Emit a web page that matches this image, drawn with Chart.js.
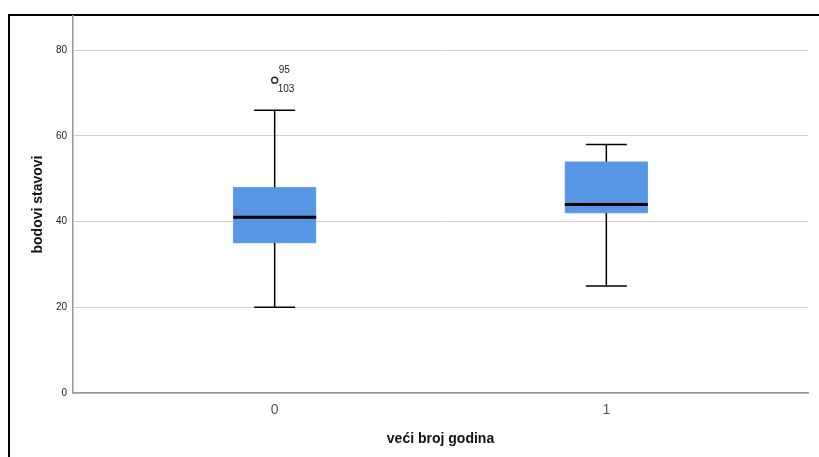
<!DOCTYPE html>
<html>
<head>
<meta charset="utf-8">
<script src="https://cdn.jsdelivr.net/npm/chart.js@4.4.0/dist/chart.umd.min.js"></script>
<style>
  body{margin:0;background:#fff;}
  #frame{position:absolute;left:8px;top:14px;width:900px;height:500px;border:2px solid #000;}
  #wrap{position:absolute;left:0;top:0;width:819px;height:457px;}
</style>
</head>
<body>
<div id="frame"></div>
<div id="wrap"><canvas id="mychart" width="819" height="457"></canvas></div>
<script>
	// boxplot summary for each group
	const categories=['0','1'];
	const mins=[20,25];
	const q1s=[35,42];
	const medians=[41,44];
	const q3s=[48,54];
	const maxs=[66,58];
	const outliers=[73];
	const outlierGroup=[0];
	const outlierCases=[['95','103']];
	const yTicks=[0,20,40,60,80];

	const boxColor='#5796e4';

	const boxExtras={
		id:'boxExtras',
		afterDatasetsDraw(chart){
			const ctx=chart.ctx;
			const x=chart.scales.x, y=chart.scales.y;
			ctx.save();
			ctx.strokeStyle='#000';
			for(var i=0;i<categories.length;i++){
				var cx=x.getPixelForValue(i);
				ctx.lineWidth=1.5;
				ctx.beginPath();
				ctx.moveTo(cx,y.getPixelForValue(q3s[i]));
				ctx.lineTo(cx,y.getPixelForValue(maxs[i]));
				ctx.moveTo(cx,y.getPixelForValue(q1s[i]));
				ctx.lineTo(cx,y.getPixelForValue(mins[i]));
				ctx.moveTo(cx-20.5,y.getPixelForValue(maxs[i]));
				ctx.lineTo(cx+20.5,y.getPixelForValue(maxs[i]));
				ctx.moveTo(cx-20.5,y.getPixelForValue(mins[i]));
				ctx.lineTo(cx+20.5,y.getPixelForValue(mins[i]));
				ctx.stroke();
				ctx.lineWidth=3;
				ctx.beginPath();
				ctx.moveTo(cx-41.5,y.getPixelForValue(medians[i]));
				ctx.lineTo(cx+41.5,y.getPixelForValue(medians[i]));
				ctx.stroke();
			}
			ctx.fillStyle='#222';
			ctx.font='10px "Liberation Sans", Arial, sans-serif';
			ctx.textBaseline='middle';
			for(var j=0;j<outliers.length;j++){
				var px=x.getPixelForValue(outlierGroup[j]);
				var py=y.getPixelForValue(outliers[j]);
				ctx.fillText(outlierCases[j][0],px+4,py-10);
				ctx.fillText(outlierCases[j][1],px+3,py+9);
			}
			ctx.restore();
		}
	};

	var ctx=document.getElementById('mychart').getContext('2d');
	var myChart=new Chart(ctx,{
		type:'bar',
		data:{
			datasets:[{
				type:'bar',
				data:categories.map((c,i)=>({x:i,y:[q1s[i],q3s[i]]})),
				backgroundColor:boxColor,
				borderColor:'#6aa3ea',
				borderWidth:1,
				borderSkipped:false,
				barThickness:83
			},{
				type:'scatter',
				data:outliers.map((v,j)=>({x:outlierGroup[j],y:v})),
				pointStyle:'circle',
				pointRadius:3,
				pointBackgroundColor:'#fff',
				pointBorderColor:'#222',
				pointBorderWidth:1.3
			}]
		},
		options:{
			responsive:false,
			animation:false,
			layout:{padding:{top:16,right:11,left:0,bottom:0}},
			plugins:{legend:{display:false},tooltip:{enabled:false}},
			scales:{
				x:{
					type:'linear',
					min:-0.608,
					max:1.608,
					offset:false,
					afterBuildTicks:s=>{s.ticks=categories.map((c,i)=>({value:i}));},
					afterFit:s=>{s.height=64;},
					ticks:{
						callback:v=>categories[v],
						color:'#555',
						font:{family:'"Liberation Sans", Arial, sans-serif',size:14},
						padding:1
					},
					grid:{display:false,offset:false},
					border:{color:'#999',width:1.5},
					title:{
						display:true,
						text:'veći broj godina',
						color:'#111',
						font:{family:'"Liberation Sans", Arial, sans-serif',size:14,weight:'bold'},
						padding:{top:0,bottom:9}
					}
				},
				y:{
					min:0,
					max:88,
					afterBuildTicks:s=>{s.ticks=yTicks.map(v=>({value:v}));},
					afterFit:s=>{s.width=73;},
					ticks:{
						color:'#222',
						font:{family:'"Liberation Sans", Arial, sans-serif',size:10},
						padding:6
					},
					grid:{color:'#cfcfcf',lineWidth:1,drawTicks:false},
					border:{color:'#999',width:1.5},
					title:{
						display:true,
						text:'bodovi stavovi',
						color:'#111',
						font:{family:'"Liberation Sans", Arial, sans-serif',size:14,weight:'bold'},
						padding:{top:30,bottom:0}
					}
				}
			}
		},
		plugins:[boxExtras]
	});
</script>
</body>
</html>
